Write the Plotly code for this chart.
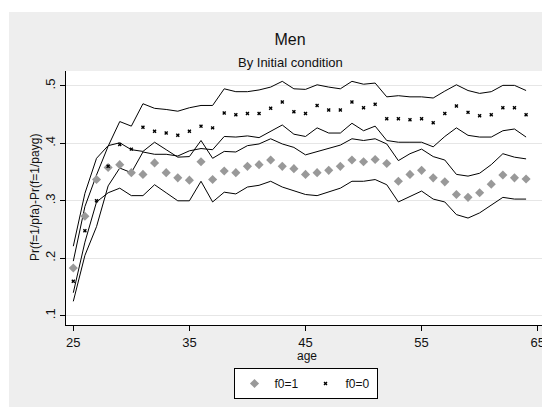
import plotly.graph_objects as go

ages = list(range(25, 65))

# f0=1 : point estimate and confidence band
f1_est = [.183, .273, .337, .358, .363, .349, .346, .366, .349, .340,
          .336, .368, .337, .352, .349, .360, .363, .371, .360, .356,
          .346, .349, .353, .360, .371, .368, .372, .365, .334, .346,
          .353, .340, .333, .311, .306, .314, .329, .345, .340, .338]
f1_hi = [.221, .313, .374, .396, .401, .389, .386, .402, .389, .376,
         .377, .405, .374, .386, .385, .396, .399, .408, .399, .393,
         .380, .386, .391, .397, .408, .405, .408, .399, .370, .382,
         .390, .377, .371, .346, .343, .348, .363, .382, .376, .373]
f1_lo = [.140, .228, .298, .314, .322, .309, .309, .328, .314, .300,
         .300, .334, .298, .315, .312, .324, .327, .334, .324, .318,
         .311, .309, .316, .322, .334, .334, .337, .328, .298, .308,
         .317, .303, .298, .276, .270, .279, .292, .306, .303, .303]

# f0=0 : point estimate and confidence band
f0_est = [.160, .248, .300, .360, .398, .390, .428, .421, .418, .414,
          .421, .430, .427, .453, .450, .452, .452, .461, .472, .455,
          .452, .466, .458, .458, .472, .462, .468, .443, .443, .441,
          .443, .436, .452, .465, .454, .448, .450, .462, .462, .450]
f0_hi = [.195, .290, .345, .395, .438, .430, .469, .461, .459, .456,
         .462, .466, .466, .495, .490, .490, .493, .498, .508, .495,
         .494, .502, .498, .495, .508, .503, .505, .481, .483, .481,
         .481, .479, .491, .502, .492, .487, .490, .501, .501, .492]
f0_lo = [.125, .205, .255, .326, .357, .349, .385, .381, .381, .378,
         .387, .391, .389, .412, .411, .413, .410, .421, .432, .416,
         .412, .427, .418, .418, .435, .422, .430, .405, .402, .402,
         .402, .394, .412, .427, .414, .411, .411, .422, .425, .411]

x_ticks = [25, 35, 45, 55, 65]
y_ticks = [.1, .2, .3, .4, .5]
y_tick_labels = [".1", ".2", ".3", ".4", ".5"]

FONT = "Liberation Sans, Arial, Helvetica, sans-serif"

fig = go.Figure()
for band in (f1_hi, f1_lo, f0_hi, f0_lo):
    fig.add_trace(go.Scatter(x=ages, y=band, mode="lines",
                             line=dict(color="black", width=1),
                             showlegend=False, hoverinfo="skip"))
fig.add_trace(go.Scatter(x=ages, y=f1_est, mode="markers", name="f0=1",
                         marker=dict(symbol="diamond", size=7, color="#999999")))
fig.add_trace(go.Scatter(x=ages, y=f0_est, mode="markers", name="f0=0",
                         marker=dict(symbol="x", size=3.5, color="black")))

# page body has an 8px margin; figure coordinates = screen - 8
OFF = 8
W, H = 542, 399
L, R, T, B = 58, 2, 63, 82
pw, ph = W - L - R, H - T - B

def px_x(p):          # p in screen pixels
    return (p - OFF - L) / pw

def px_y(p):
    return (H - B - (p - OFF)) / ph

fig.update_layout(
    width=W, height=H,
    margin=dict(l=L, r=R, t=T, b=B, pad=0),
    paper_bgcolor="#EEEEEE",
    plot_bgcolor="white",
    font=dict(family=FONT, size=12, color="#111111"),
    title=dict(text="Men", x=(290 - OFF) / W, xanchor="center", xref="container",
               y=1 - (39.5 - OFF) / H, yanchor="middle", yref="container",
               font=dict(size=16, family=FONT, color="#111111")),
    showlegend=True,
    legend=dict(orientation="h", x=px_x(305.5), xanchor="center",
                y=px_y(383.5), yanchor="middle",
                bgcolor="white", bordercolor="black", borderwidth=1,
                font=dict(size=12, family=FONT), itemwidth=30,
                entrywidth=26, entrywidthmode="pixels",
                traceorder="normal"),
    xaxis=dict(range=[24.371, 65.888], tickmode="array", tickvals=x_ticks,
               ticks="outside", ticklen=5, tickcolor="black", showgrid=False,
               zeroline=False, showline=True, linecolor="black", linewidth=1,
               tickfont=dict(size=13), title=None),
    yaxis=dict(range=[.0838, .526], tickmode="array", tickvals=y_ticks,
               ticktext=y_tick_labels, tickangle=-90,
               ticks="outside", ticklen=5, tickcolor="black", showgrid=True,
               gridcolor="#E6E6E6", gridwidth=1,
               zeroline=False, showline=True, linecolor="black", linewidth=1,
               tickfont=dict(size=13), title=None),
    shapes=[
        dict(type="rect", xref="paper", yref="paper", layer="below",
             x0=px_x(OFF), x1=px_x(9), y0=px_y(OFF + H), y1=px_y(OFF),
             fillcolor="white", line=dict(width=0)),
        dict(type="rect", xref="paper", yref="paper", layer="below",
             x0=px_x(OFF), x1=px_x(OFF + W), y0=px_y(12), y1=px_y(OFF),
             fillcolor="white", line=dict(width=0)),
    ],
    annotations=[
        dict(text="By Initial condition", xref="paper", yref="paper",
             x=px_x(290), y=px_y(62.5), xanchor="center", yanchor="middle",
             showarrow=False, font=dict(size=13, family=FONT)),
        dict(text="age", xref="paper", yref="paper",
             x=px_x(307), y=px_y(356), xanchor="center", yanchor="middle",
             showarrow=False, font=dict(size=12, family=FONT)),
        dict(text="Pr(f=1/pfa)-Pr(f=1/payg)", xref="paper", yref="paper",
             x=px_x(35), y=px_y(198), xanchor="center", yanchor="middle",
             textangle=-90, showarrow=False, font=dict(size=12, family=FONT)),
    ],
)

fig.write_html("out.html")
